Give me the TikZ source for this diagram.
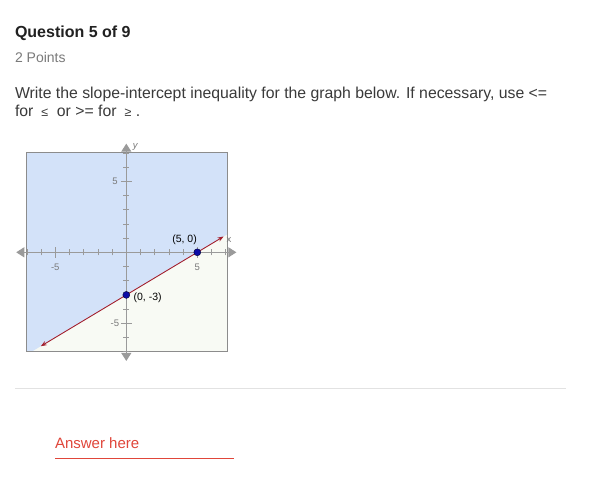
\documentclass[tikz,border=0pt]{standalone}
\usepackage{fontspec}
\setmainfont{Liberation Sans}
\usetikzlibrary{arrows.meta}
\definecolor{txtdark}{HTML}{212121}
\definecolor{txtbody}{HTML}{3A3A3A}
\definecolor{txtgray}{HTML}{7A7A7A}
\definecolor{skyfill}{HTML}{D3E2F9}
\definecolor{paleside}{HTML}{F8FAF4}
\definecolor{boxgray}{HTML}{8C8C8C}
\definecolor{axisgray}{HTML}{9A9A9A}
\definecolor{linered}{HTML}{A3202E}
\definecolor{dotblue}{HTML}{0B0BA6}
\definecolor{ansred}{HTML}{E0463A}
\definecolor{seprule}{HTML}{E2E2E2}
\tikzset{
  pagetext/.style={anchor=base west, inner sep=0pt, outer sep=0pt},
  axisline/.style={draw=axisgray, line width=0.9pt},
  ticklbl/.style={text=txtgray, font=\fontsize{9.5}{11}\selectfont, inner sep=0pt},
  ptlbl/.style={text=black, font=\fontsize{10.5}{12}\selectfont, inner sep=0pt},
  ptdot/.style={circle, fill=dotblue, draw=black!70!dotblue, line width=0.4pt, minimum size=7pt, inner sep=0pt},
  axarrow/.style={{Triangle[length=8pt,width=10pt]}-{Triangle[length=8pt,width=10pt]}},
}
\begin{document}
\begin{tikzpicture}[x=1pt, y=-1pt]
\useasboundingbox[fill=white] (0,0) rectangle (593,484);
% header texts
\node[pagetext, text=txtdark, font=\bfseries\fontsize{16}{19}\selectfont] (title) at (15,38) {Question 5 of 9};
\node[pagetext, text=txtgray, font=\fontsize{14}{16}\selectfont] (points) at (15,63) {2 Points};
\node[pagetext, text=txtbody, font=\fontsize{15.8}{18}\selectfont] (line1) at (15,99) {Write the slope-intercept inequality for the graph below. If necessary, use <=};
\node[pagetext, text=txtbody, font=\fontsize{15.8}{18}\selectfont] (line2) at (15,116.5) {for {\fontsize{12.5}{14}\selectfont\ ≤}\ \ or >= for {\fontsize{12.5}{14}\selectfont\ ≥}\ .};
% graph
\begin{scope}[shift={(126.3pt,-252.3pt)}, x=14.2pt, y=14.2pt]
  \coordinate (bl) at (-7.06,-6.98);
  \coordinate (tr) at (7.09,7.06);
  \fill[paleside] (bl) rectangle (tr);
  \begin{scope}
    \clip (bl) rectangle (tr);
    \fill[skyfill] (-8,-7.8) -- (8,1.8) -- (8,8) -- (-8,8) -- cycle;
  \end{scope}
  \draw[boxgray, line width=0.8pt] (bl) rectangle (tr);
  % axes
  \coordinate (xl) at (-7.75,0);
  \coordinate (xr) at (7.75,0);
  \coordinate (yb) at (0,-7.65);
  \coordinate (yt) at (0,7.65);
  \draw[axisline, axarrow] (xl) -- (xr);
  \draw[axisline, axarrow] (yb) -- (yt);
  \foreach \k in {-7,...,7}{
    \ifnum\k=0\else
      \ifnum\k=5 \def\tl{5.5pt}\else\ifnum\k=-5 \def\tl{5.5pt}\else\def\tl{3pt}\fi\fi
      \draw[axisgray, line width=0.7pt] (\k,0) ++(0,-\tl) -- ++(0,2*\tl);
      \draw[axisgray, line width=0.7pt] (0,\k) ++(-\tl,0) -- ++(2*\tl,0);
    \fi
  }
  \node[ticklbl] (xm5) at (-5,-1.05) {-5};
  \node[ticklbl] (xp5) at (5,-1.05) {5};
  \node[ticklbl] (yp5) at (-0.8,5) {5};
  \node[ticklbl] (ym5) at (-0.8,-5) {-5};
  \node[ticklbl, anchor=west] (xlab) at (7.05,0.85) {x};
  \node[ticklbl, anchor=west] (ylab) at (0.45,7.45) {\itshape y};
  % boundary line
  \coordinate (lstart) at (-6.02,-6.612);
  \coordinate (lend) at (6.85,1.11);
  \draw[linered, line width=0.9pt, {Stealth[length=6pt,width=4.5pt]}-{Stealth[length=6pt,width=4.5pt]}] (lstart) -- (lend);
  \node[ptdot] (p50) at (5,0) {};
  \node[ptdot] (p03) at (0,-3) {};
  \node[ptlbl] (lab50) at (4.1,0.85) {(5, 0)};
  \node[ptlbl, anchor=west] (lab03) at (0.5,-3.2) {(0, -3)};
\end{scope}
% separator and answer
\coordinate (sepl) at (15,388.3);
\coordinate (sepr) at (566,388.3);
\draw[seprule, line width=1pt] (sepl) -- (sepr);
\node[pagetext, text=ansred, font=\fontsize{15}{18}\selectfont] (answer) at (55,448) {Answer here};
\coordinate (ulA) at (55,458.3);
\coordinate (ulB) at (234,458.3);
\draw[ansred, line width=0.9pt] (ulA) -- (ulB);
\end{tikzpicture}
\end{document}
